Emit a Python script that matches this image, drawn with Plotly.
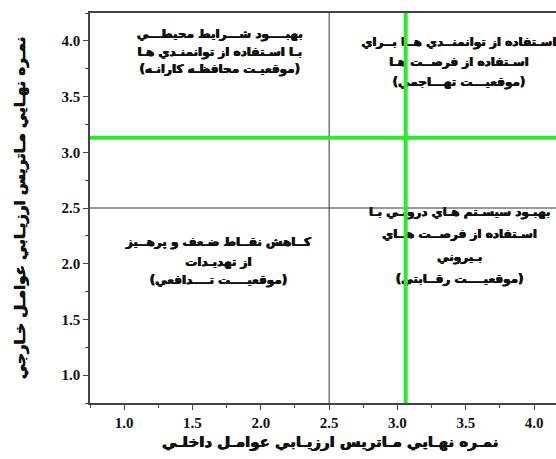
import plotly.graph_objects as go

# ---- data ----
ife_total = 3.06   # internal factor evaluation total score (green vertical line)
efe_total = 3.13   # external factor evaluation total score (green horizontal line)
mid_x = 2.5
mid_y = 2.5
x_range = [0.75, 4.16]
y_range = [0.75, 4.25]
tick_vals = [1.0, 1.5, 2.0, 2.5, 3.0, 3.5, 4.0]
tick_text = ["1.0", "1.5", "2.0", "2.5", "3.0", "3.5", "4.0"]

x_title = "نمـره نهـايي مـاتريس ارزيـابي عوامـل داخلـي"
y_title = "نمـره نهـايي مـاتريس ارزيـابي عوامـل خـارجي"

q_top_left = ["بهبــــود شـــرايط محيطـــي", "بـا اسـتفاده از توانمنـدي هـا", "(موقعيـت محافظـه كارانـه)"]
q_top_right = ["اسـتفاده از توانمنــدي هــا بــراي", "اسـتفاده از فرصــت هـا", "(موقعيـــت تهـــاجمي)"]
q_bottom_left = ["كــاهش نقــاط ضـعف و پرهــيز", "از تهديـدات", "(موقعيــــت تــــدافعي)"]
q_bottom_right = ["بهبـود سيسـتم هـاي درونـي بـا", "اسـتفاده از فرصــت هــاي", "بـيروني", "(موقعيــــت رقــابتي)"]

# label anchor positions (layout)
tl_x, tl_y = 1.70, [4.053, 3.891, 3.738]
tr_x, tr_y = 3.45, [3.981, 3.801, 3.622]
bl_x, bl_y = 1.69, [2.186, 2.006, 1.845]
br_x, br_y = 3.455, [2.455, 2.262, 2.055, 1.857]

bold_shadow = "0.45px 0 0 #111111, -0.45px 0 0 #111111"
txt_font = dict(family="DejaVu Sans", size=12, color="#111111", weight="bold",
                shadow=bold_shadow)

fig = go.Figure()
for lines, xx, ys in [(q_top_left, tl_x, tl_y), (q_top_right, tr_x, tr_y),
                      (q_bottom_left, bl_x, bl_y), (q_bottom_right, br_x, br_y)]:
    fig.add_trace(go.Scatter(
        x=[xx] * len(lines), y=ys, text=lines,
        mode="text", textposition="middle center", textfont=txt_font,
        hoverinfo="skip", showlegend=False))

shapes = [
    dict(type="line", xref="x", yref="paper", x0=mid_x, x1=mid_x, y0=0, y1=1,
         line=dict(color="#333333", width=1), layer="above"),
    dict(type="line", xref="paper", yref="y", x0=0, x1=1, y0=mid_y, y1=mid_y,
         line=dict(color="#333333", width=1), layer="above"),
    dict(type="line", xref="x", yref="paper", x0=ife_total, x1=ife_total, y0=0, y1=1,
         line=dict(color="#2ee82e", width=4), layer="above"),
    dict(type="line", xref="paper", yref="y", x0=0, x1=1, y0=efe_total, y1=efe_total,
         line=dict(color="#2ee82e", width=4), layer="above"),
]

tick_font = dict(family="Liberation Serif, Times New Roman, serif", size=15,
                 color="#111111", weight="bold")
axis_common = dict(
    showgrid=False, zeroline=False, showline=True, linecolor="#444444", linewidth=1.5,
    ticks="outside", ticklen=5, tickwidth=1, tickcolor="#444444",
    tickvals=tick_vals, ticktext=tick_text, tickfont=tick_font,
    minor=dict(dtick=0.25, ticks="outside", ticklen=3, tickwidth=1, tickcolor="#444444"),
)

fig.update_layout(
    width=556, height=459,
    margin=dict(l=90, r=0, t=13, b=56),
    paper_bgcolor="white", plot_bgcolor="white",
    xaxis=dict(range=x_range, mirror=True, **axis_common),
    yaxis=dict(range=y_range, mirror=False, **axis_common),
    shapes=shapes,
    annotations=[
        dict(text=x_title, xref="paper", yref="paper", x=0.515, y=-0.1,
             xanchor="center", yanchor="middle", showarrow=False,
             font=dict(family="DejaVu Sans", size=15, color="#111111", weight="bold",
                       shadow=bold_shadow)),
        dict(text=y_title, xref="paper", yref="paper", x=-0.150, y=0.5,
             xanchor="center", yanchor="middle", showarrow=False, textangle=-90,
             font=dict(family="DejaVu Sans", size=15, color="#111111", weight="bold",
                       shadow=bold_shadow)),
    ],
)

fig.write_html("out.html", config={"displayModeBar": False})

# remove default page margins so the 556x459 figure fills the window exactly
with open("out.html", "r", encoding="utf-8") as f:
    html = f.read()
html = html.replace("<head>", "<head><style>html,body{margin:0;padding:0;overflow:hidden;}</style>", 1)
with open("out.html", "w", encoding="utf-8") as f:
    f.write(html)
